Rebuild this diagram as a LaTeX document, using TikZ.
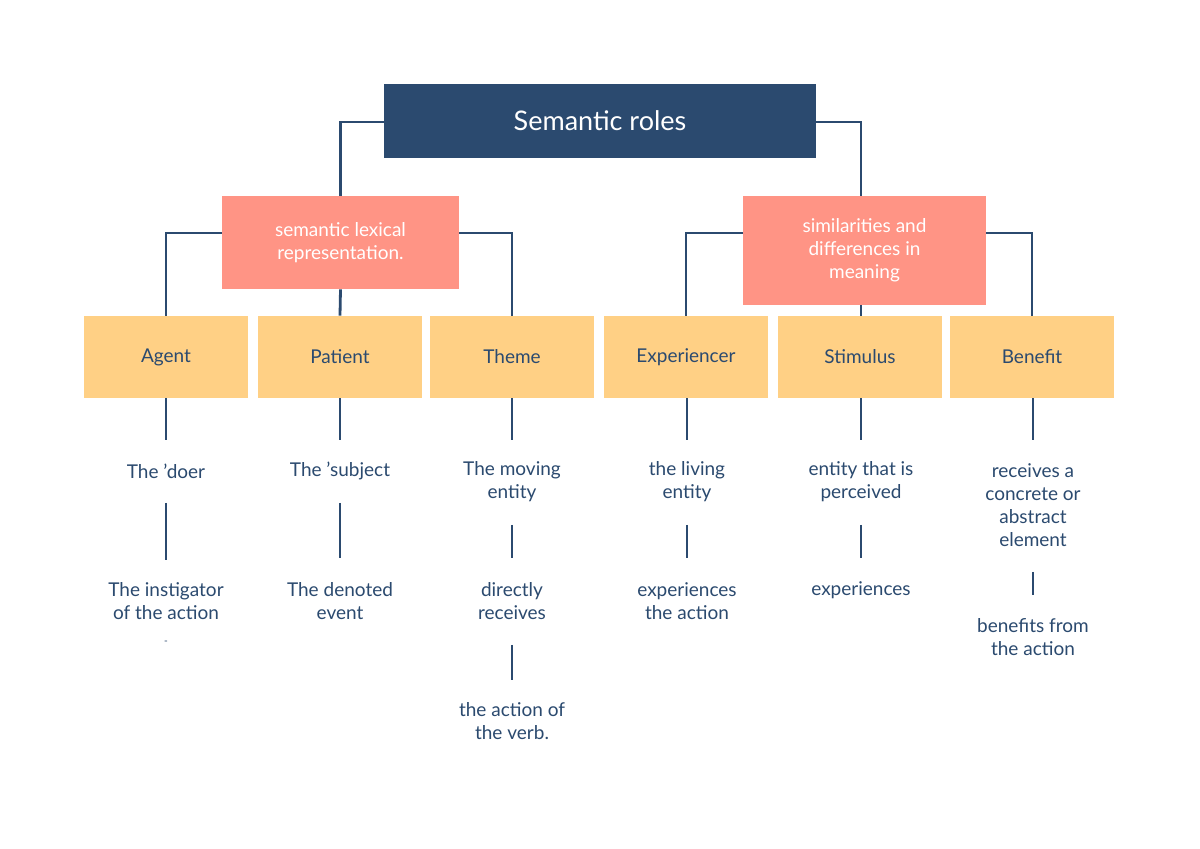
\documentclass[tikz,border=0pt]{standalone}
\usepackage{fontspec}
\setmainfont{Lato}
\definecolor{navy}{HTML}{2B4A6F}
\definecolor{pinkc}{HTML}{FF9485}
\definecolor{yel}{HTML}{FFD085}
\begin{document}
\begin{tikzpicture}[x=0.5pt,y=-0.5pt,
 ln/.style={draw=navy,line width=1.4pt},
 txt/.style={text=navy,font=\fontsize{9.5}{11.5}\selectfont,align=center,inner sep=0pt},
 ybox/.style={fill=yel,text=navy,font=\fontsize{9.5}{11.5}\selectfont,inner sep=0pt}]
\useasboundingbox (0,0) rectangle (1200,849);
\fill[white] (0,0) rectangle (1200,849);
\node[fill=navy,text=white,font=\fontsize{13.5}{16}\selectfont,minimum width=216pt,minimum height=37pt,inner sep=0pt] (title) at (600,121) {Semantic roles};
\node[fill=pinkc,text=white,font=\fontsize{9.5}{11.5}\selectfont,align=center,minimum width=118.5pt,minimum height=46.5pt,inner sep=0pt] (pl) at (340.5,242.5) {semantic lexical\\representation.};
\node[fill=pinkc,text=white,font=\fontsize{9.5}{11.5}\selectfont,align=center,minimum width=121.5pt,minimum height=54.5pt,inner sep=0pt] (pr) at (864.5,250.5) {similarities and\\differences in\\meaning};
\foreach \n/\x/\t in {agent/166/Agent,patient/340/Patient,theme/512/Theme,exp/686/Experiencer,stim/860/Stimulus,ben/1032/Benefit}{
 \node[ybox,minimum width=82pt,minimum height=41pt] (\n) at (\x,357) {\t};}
% top connectors
\coordinate (tl) at (340,122); \coordinate (tr) at (861,122);
\draw[ln] (title.west|-tl) -| (pl.north);
\draw[ln] (title.east|-tr) -| (861,196);
\draw[ln] (pl.west|-0,233) -| (agent.north);
\draw[ln] (pl.east|-0,233) -| (theme.north);
\draw[ln] (pl.south) -- (patient.north);
\draw[ln] (pr.west|-0,233) -| (exp.north);
\draw[ln] (pr.east|-0,233) -| (ben.north);
\draw[ln] (861,305) -- (861,316);
% column texts
\node[txt] (a1) at (166,471) {The 'doer};
\node[txt] (a2) at (166,601) {The instigator\\of the action};
\node[txt,font=\fontsize{5}{6}\selectfont] (a3) at (166,643) {-};
\node[txt] (p1) at (340,471) {The 'subject};
\node[txt] (p2) at (340,601) {The denoted\\event};
\node[txt] (t1) at (512,482) {The moving\\entity};
\node[txt] (t2) at (512,601) {directly\\receives};
\node[txt] (t3) at (512,721) {the action of\\the verb.};
\node[txt] (e1) at (687,482) {the living\\entity};
\node[txt] (e2) at (687,601) {experiences\\the action};
\node[txt] (s1) at (861,482) {entity that is\\perceived};
\node[txt] (s2) at (861,590) {experiences};
\node[txt] (b1) at (1033,505) {receives a\\concrete or\\abstract\\element};
\node[txt] (b2) at (1033,637) {benefits from\\the action};
% vertical connectors
\foreach \n/\x in {agent/166,patient/340,theme/512,exp/687,stim/861,ben/1033}{
 \draw[ln] (\n.south-|\x,0) -- (\x,440);}
\draw[ln] (166,503) -- (166,560);
\draw[ln] (340,503) -- (340,558);
\draw[ln] (512,525) -- (512,558);
\draw[ln] (512,645) -- (512,680);
\draw[ln] (687,525) -- (687,558);
\draw[ln] (861,525) -- (861,558);
\draw[ln] (1033,572) -- (1033,595);
\end{tikzpicture}
\end{document}
